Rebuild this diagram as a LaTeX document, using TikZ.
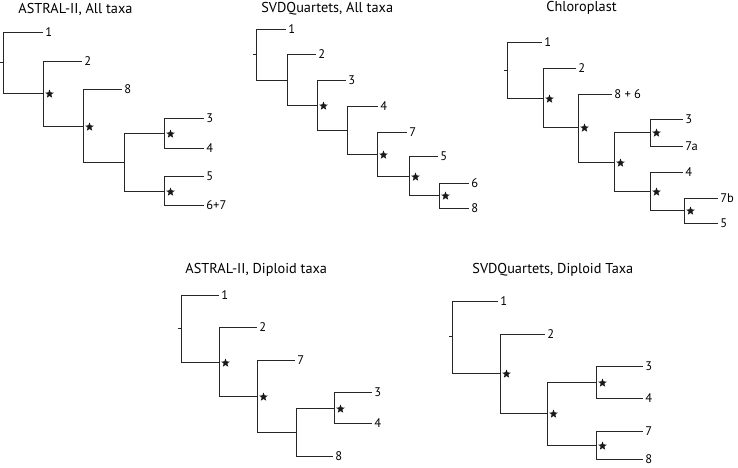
\documentclass[tikz,border=0pt]{standalone}
\usepackage{fontspec}
\setmainfont{PT Sans}
\usetikzlibrary{shapes.geometric}

\begin{document}
\begin{tikzpicture}[x=1pt,y=-1pt,line width=0.8pt,
  branch/.style={draw=black!85,to path={|- (\tikztotarget)}},
  taxon/.style={anchor=west,inner xsep=2pt,inner ysep=0.5pt,text height=8.6pt,text depth=0pt,font=\fontsize{12.5}{13}\selectfont},
  support/.style={star,star points=5,star point ratio=2.3,fill=black!90,inner sep=0pt,minimum size=9pt,xshift=6.5pt,yshift=-1pt},
  title/.style={anchor=west,inner sep=0pt,font=\fontsize{14.3}{16}\selectfont}]
\useasboundingbox (0,0) rectangle (738,467);

\node[title] (TA) at (18,9) {ASTRAL-II, All taxa};
\node[title] (TB) at (261,9) {SVDQuartets, All taxa};
\node[title] (TC) at (546,8) {Chloroplast};
\node[title] (TD) at (185,270) {ASTRAL-II, Diploid taxa};
\node[title] (TE) at (472,270) {SVDQuartets, Diploid Taxa};

\coordinate (A0) at (3,62);
\coordinate (A1) at (43,93);
\coordinate (A2) at (83,126);
\coordinate (A3) at (124,162);
\coordinate (A4) at (164,133);
\coordinate (A5) at (164,191);
\node[taxon] (A-1) at (43,32) {1};
\node[taxon] (A-2) at (82,61) {2};
\node[taxon] (A-8) at (122,89) {8};
\node[taxon] (A-3) at (204,118) {3};
\node[taxon] (A-4) at (204,148) {4};
\node[taxon] (A-5) at (204,176) {5};
\node[taxon] (A-67) at (204,205) {6+7};
\path [] (A0) edge[branch] (A-1);
\path [] (A0) edge[branch] (A1);
\path [] (A1) edge[branch] (A-2);
\path [] (A1) edge[branch] (A2);
\path [] (A2) edge[branch] (A-8);
\path [] (A2) edge[branch] (A3);
\path [] (A3) edge[branch] (A4);
\path [] (A3) edge[branch] (A5);
\path [] (A4) edge[branch] (A-3);
\path [] (A4) edge[branch] (A-4);
\path [] (A5) edge[branch] (A-5);
\path [] (A5) edge[branch] (A-67);
\draw[black!85] (A0) -- ++(-3,0);
\node[support] (A1s) at (A1) {};
\node[support] (A2s) at (A2) {};
\node[support] (A4s) at (A4) {};
\node[support] (A5s) at (A5) {};

\coordinate (B0) at (256,54);
\coordinate (B1) at (287,80);
\coordinate (B2) at (317,105);
\coordinate (B3) at (347,130);
\coordinate (B4) at (377,154);
\coordinate (B5) at (409,176);
\coordinate (B6) at (439,195);
\node[taxon] (B-1) at (286,29) {1};
\node[taxon] (B-2) at (316,54) {2};
\node[taxon] (B-3) at (346,80) {3};
\node[taxon] (B-4) at (378,106) {4};
\node[taxon] (B-7) at (407,132) {7};
\node[taxon] (B-5) at (438,156) {5};
\node[taxon] (B-6) at (469,183) {6};
\node[taxon] (B-8) at (469,208) {8};
\path [] (B0) edge[branch] (B-1);
\path [] (B0) edge[branch] (B1);
\path [] (B1) edge[branch] (B-2);
\path [] (B1) edge[branch] (B2);
\path [] (B2) edge[branch] (B-3);
\path [] (B2) edge[branch] (B3);
\path [] (B3) edge[branch] (B-4);
\path [] (B3) edge[branch] (B4);
\path [] (B4) edge[branch] (B-7);
\path [] (B4) edge[branch] (B5);
\path [] (B5) edge[branch] (B-5);
\path [] (B5) edge[branch] (B6);
\path [] (B6) edge[branch] (B-6);
\path [] (B6) edge[branch] (B-8);
\draw[black!85] (B0) -- ++(-3,0);
\node[support] (B2s) at (B2) {};
\node[support] (B4s) at (B4) {};
\node[support] (B5s) at (B5) {};
\node[support] (B6s) at (B6) {};

\coordinate (C0) at (507,70);
\coordinate (C1) at (543,98);
\coordinate (C2) at (578,127);
\coordinate (C3) at (614,162);
\coordinate (C4) at (650,132);
\coordinate (C5) at (650,191);
\coordinate (C6) at (684,210);
\node[taxon] (C-1) at (542,42) {1};
\node[taxon] (C-2) at (576,68) {2};
\node[taxon] (C-86) at (612,94) {8 + 6};
\node[taxon] (C-3) at (683,119) {3};
\node[taxon] (C-7a) at (683,146) {7a};
\node[taxon] (C-4) at (683,172) {4};
\node[taxon] (C-7b) at (718,198) {7b};
\node[taxon] (C-5) at (718,223) {5};
\path [] (C0) edge[branch] (C-1);
\path [] (C0) edge[branch] (C1);
\path [] (C1) edge[branch] (C-2);
\path [] (C1) edge[branch] (C2);
\path [] (C2) edge[branch] (C-86);
\path [] (C2) edge[branch] (C3);
\path [] (C3) edge[branch] (C4);
\path [] (C3) edge[branch] (C5);
\path [] (C4) edge[branch] (C-3);
\path [] (C4) edge[branch] (C-7a);
\path [] (C5) edge[branch] (C-4);
\path [] (C5) edge[branch] (C6);
\path [] (C6) edge[branch] (C-7b);
\path [] (C6) edge[branch] (C-5);
\draw[black!85] (C0) -- ++(-3,0);
\node[support] (C1s) at (C1) {};
\node[support] (C2s) at (C2) {};
\node[support] (C3s) at (C3) {};
\node[support] (C4s) at (C4) {};
\node[support] (C5s) at (C5) {};
\node[support] (C6s) at (C6) {};

\coordinate (D0) at (181,328);
\coordinate (D1) at (219,362);
\coordinate (D2) at (257,396);
\coordinate (D3) at (296,432);
\coordinate (D4) at (334,408);
\node[taxon] (D-1) at (219,295) {1};
\node[taxon] (D-2) at (257,327) {2};
\node[taxon] (D-7) at (295,360) {7};
\node[taxon] (D-3) at (372,392) {3};
\node[taxon] (D-4) at (372,423) {4};
\node[taxon] (D-8) at (333,456) {8};
\path [] (D0) edge[branch] (D-1);
\path [] (D0) edge[branch] (D1);
\path [] (D1) edge[branch] (D-2);
\path [] (D1) edge[branch] (D2);
\path [] (D2) edge[branch] (D-7);
\path [] (D2) edge[branch] (D3);
\path [] (D3) edge[branch] (D4);
\path [] (D3) edge[branch] (D-8);
\path [] (D4) edge[branch] (D-3);
\path [] (D4) edge[branch] (D-4);
\draw[black!85] (D0) -- ++(-3,0);
\node[support] (D1s) at (D1) {};
\node[support] (D2s) at (D2) {};
\node[support] (D4s) at (D4) {};

\coordinate (E0) at (452,336);
\coordinate (E1) at (500,373);
\coordinate (E2) at (547,413);
\coordinate (E3) at (596,382);
\coordinate (E4) at (596,445);
\node[taxon] (E-1) at (498,301) {1};
\node[taxon] (E-2) at (545,334) {2};
\node[taxon] (E-3) at (643,366) {3};
\node[taxon] (E-4) at (643,398) {4};
\node[taxon] (E-7) at (643,431) {7};
\node[taxon] (E-8) at (643,459.5) {8};
\path [] (E0) edge[branch] (E-1);
\path [] (E0) edge[branch] (E1);
\path [] (E1) edge[branch] (E-2);
\path [] (E1) edge[branch] (E2);
\path [] (E2) edge[branch] (E3);
\path [] (E2) edge[branch] (E4);
\path [] (E3) edge[branch] (E-3);
\path [] (E3) edge[branch] (E-4);
\path [] (E4) edge[branch] (E-7);
\path [] (E4) edge[branch] (E-8);
\draw[black!85] (E0) -- ++(-3,0);
\node[support] (E1s) at (E1) {};
\node[support] (E2s) at (E2) {};
\node[support] (E3s) at (E3) {};
\node[support] (E4s) at (E4) {};
\end{tikzpicture}
\end{document}
